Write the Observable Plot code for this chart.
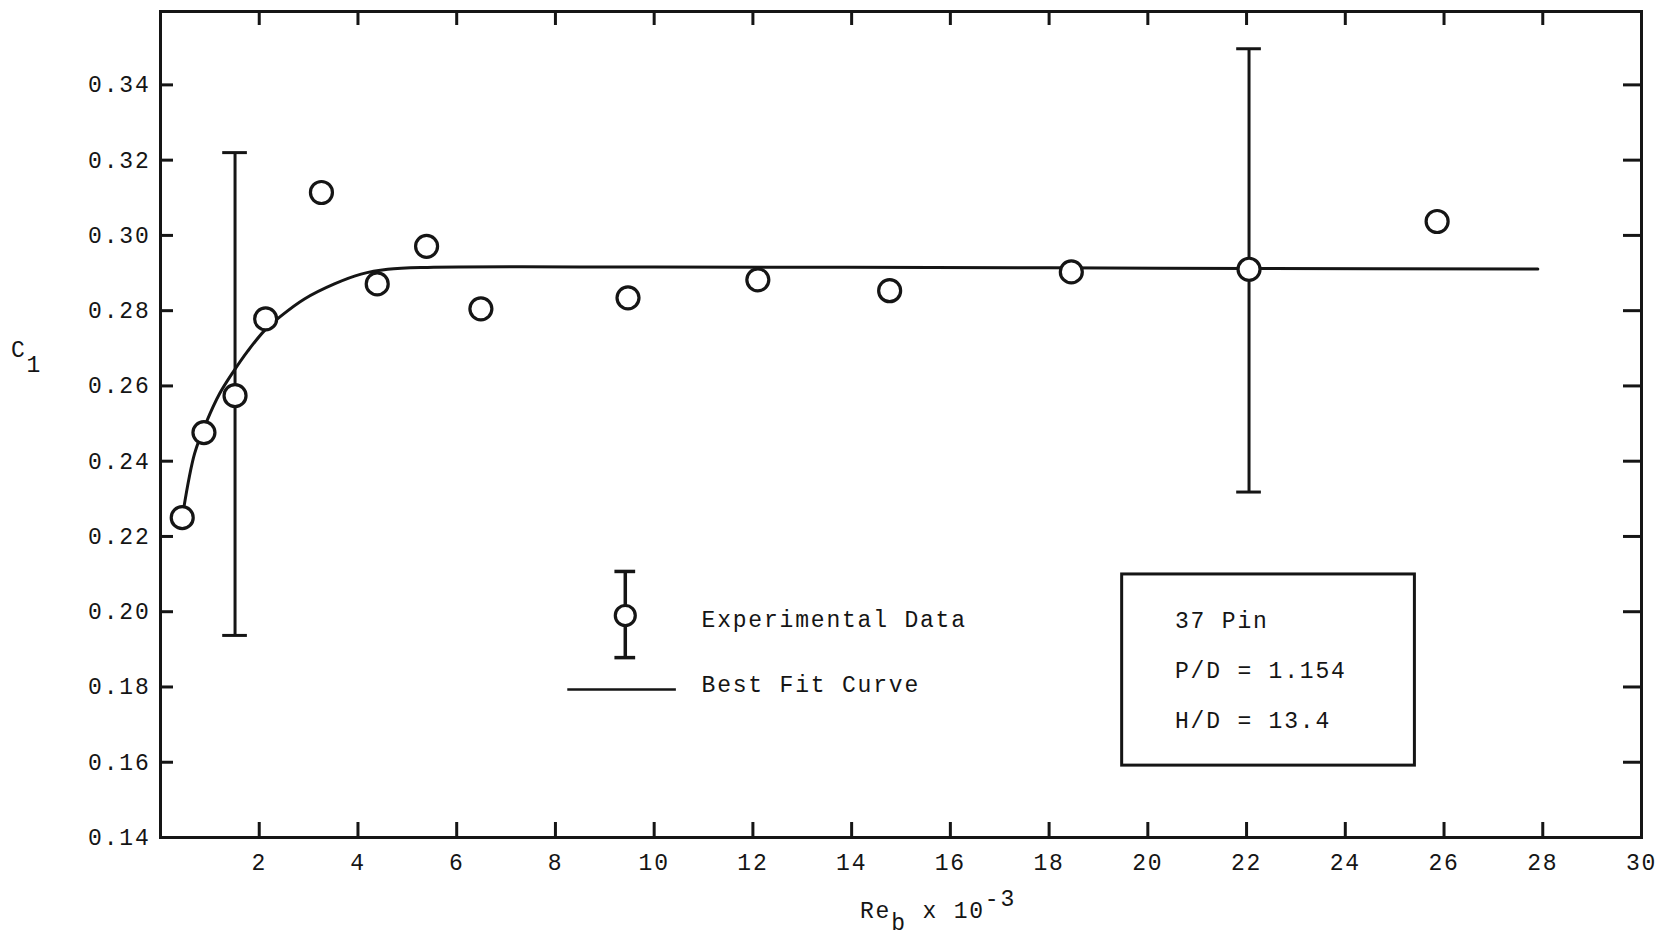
<!DOCTYPE html>
<html>
<head>
<meta charset="utf-8">
<script src="https://cdn.jsdelivr.net/npm/d3@7"></script>
<script src="https://cdn.jsdelivr.net/npm/@observablehq/plot@0.6"></script>
<style>
  html, body { margin: 0; padding: 0; background: #fff; }
  #chart { width: 1668px; height: 939px; }
</style>
</head>
<body>
<div id="chart"></div>
<script>
// Lift coefficient C1 against bundle Reynolds number (Re_b x 10^-3), 37-pin bundle
const reb = [0.44, 0.88, 1.51, 2.13, 3.26, 4.39, 5.39, 6.49, 9.47, 12.10, 14.77, 18.45, 22.05, 25.86];
const c1  = [0.2250, 0.2476, 0.2574, 0.2778, 0.3114, 0.2871, 0.2971, 0.2805, 0.2834, 0.2882, 0.2853, 0.2903, 0.2910, 0.3037];

// Scatter bands drawn at two of the measurements
const errRe   = [1.51, 22.05];
const errLow  = [0.1937, 0.2318];
const errHigh = [0.3220, 0.3496];

// Best fit curve
const fitRe = [0.44, 0.69, 0.927, 1.196, 1.467, 1.77, 2.106, 2.444, 2.916, 3.523, 4.063, 4.603, 5.41, 10, 18, 22.05, 27.9];
const fitC1 = [0.2250, 0.2420, 0.2503, 0.2579, 0.2636, 0.2693, 0.2747, 0.2786, 0.2831, 0.2871, 0.2897, 0.2910, 0.2915, 0.2916, 0.2914, 0.2912, 0.2911];

// Axis ticks
const xTicks = [2, 4, 6, 8, 10, 12, 14, 16, 18, 20, 22, 24, 26, 28, 30];
const yTicks = [0.14, 0.16, 0.18, 0.20, 0.22, 0.24, 0.26, 0.28, 0.30, 0.32, 0.34];

// Annotation texts
const legendLabels = ["Experimental Data", "Best Fit Curve"];
const infoLines = ["37 Pin", "P/D = 1.154", "H/D = 13.4"];

// ---- layout ----
const W = 1668, H = 939;
const M = {top: 11, right: 27, bottom: 102, left: 160};
const innerW = W - M.left - M.right;
const innerH = H - M.top - M.bottom;
const ink = "#151515";
const font = "'Liberation Mono', 'DejaVu Sans Mono', monospace";
const capHalf = 0.25;

// legend and info box placement, in data units
const legendPos = {
  iconX: 9.415, iconY: 0.199, iconLo: 0.1878, iconHi: 0.2107,
  textX: 10.96, textY: [0.1979, 0.1806],
  lineX1: 8.25, lineX2: 10.45, lineY: 0.1793
};
const infoPos = {x1: 19.48, x2: 25.41, y1: 0.1591, y2: 0.2099, textX: 20.55, textY: [0.1976, 0.1844, 0.1711]};

const points = reb.map((x, i) => ({x, y: c1[i]}));
const errors = errRe.map((x, i) => ({x, lo: errLow[i], hi: errHigh[i]}));
const fit = fitRe.map((x, i) => ({x, y: fitC1[i]}));
const legendIcon = [{x: legendPos.iconX, y: legendPos.iconY, lo: legendPos.iconLo, hi: legendPos.iconHi}];
const legendText = legendLabels.map((t, i) => ({t, x: legendPos.textX, y: legendPos.textY[i]}));
const infoText = infoLines.map((t, i) => ({t, x: infoPos.textX, y: infoPos.textY[i]}));

const inner = (v, lo, hi) => v > lo && v < hi;

const chart = Plot.plot({
  width: W,
  height: H,
  marginTop: M.top,
  marginRight: M.right,
  marginBottom: M.bottom,
  marginLeft: M.left,
  style: {fontFamily: font, fontSize: "23px", letterSpacing: "1.8px", color: ink, background: "#fff"},
  x: {domain: [0, 30], ticks: xTicks, tickSize: 0, tickPadding: 16, tickFormat: d => String(d), label: null},
  y: {domain: [0.14, 0.3595], ticks: yTicks, tickSize: 0, tickPadding: 10, tickFormat: d3.format(".2f"), label: null},
  marks: [
    // inward ticks on all four sides
    Plot.tickX(xTicks.filter(v => inner(v, 0, 30)), {x: d => d, insetTop: innerH - 15, stroke: ink, strokeWidth: 3}),
    Plot.tickX(xTicks.filter(v => inner(v, 0, 30)), {x: d => d, insetBottom: innerH - 14, stroke: ink, strokeWidth: 3}),
    Plot.tickY(yTicks.filter(v => inner(v, 0.14, 0.36)), {y: d => d, insetRight: innerW - 13, stroke: ink, strokeWidth: 3}),
    Plot.tickY(yTicks.filter(v => inner(v, 0.14, 0.36)), {y: d => d, insetLeft: innerW - 18, stroke: ink, strokeWidth: 3}),
    Plot.frame({stroke: ink, strokeWidth: 3}),

    // best fit curve
    Plot.line(fit, {x: "x", y: "y", curve: "catmull-rom", stroke: ink, strokeWidth: 3}),

    // error bars
    Plot.ruleX(errors, {x: "x", y1: "lo", y2: "hi", stroke: ink, strokeWidth: 3}),
    Plot.ruleY(errors, {y: "hi", x1: d => d.x - capHalf, x2: d => d.x + capHalf, stroke: ink, strokeWidth: 3}),
    Plot.ruleY(errors, {y: "lo", x1: d => d.x - capHalf, x2: d => d.x + capHalf, stroke: ink, strokeWidth: 3}),

    // experimental data
    Plot.dot(points, {x: "x", y: "y", r: 11, fill: "#fff", stroke: ink, strokeWidth: 3.2}),

    // legend
    Plot.ruleX(legendIcon, {x: "x", y1: "lo", y2: "hi", stroke: ink, strokeWidth: 3.5}),
    Plot.ruleY(legendIcon, {y: "hi", x1: d => d.x - 0.21, x2: d => d.x + 0.21, stroke: ink, strokeWidth: 3.5}),
    Plot.ruleY(legendIcon, {y: "lo", x1: d => d.x - 0.21, x2: d => d.x + 0.21, stroke: ink, strokeWidth: 3.5}),
    Plot.dot(legendIcon, {x: "x", y: "y", r: 10, fill: "#fff", stroke: ink, strokeWidth: 3.2}),
    Plot.ruleY([legendPos.lineY], {x1: legendPos.lineX1, x2: legendPos.lineX2, stroke: ink, strokeWidth: 2.5}),
    Plot.text(legendText, {x: "x", y: "y", text: "t", textAnchor: "start", lineAnchor: "middle", fill: ink}),

    // parameter box
    Plot.rect([infoPos], {x1: "x1", x2: "x2", y1: "y1", y2: "y2", fill: "none", stroke: ink, strokeWidth: 3}),
    Plot.text(infoText, {x: "x", y: "y", text: "t", textAnchor: "start", lineAnchor: "middle", fill: ink})
  ]
});

document.getElementById("chart").appendChild(chart);

// axis titles with subscripts / superscript
const svg = d3.select(chart);
const xl = svg.append("text").attr("x", 860).attr("y", 918).attr("text-anchor", "start").attr("fill", ink);
xl.append("tspan").text("Re");
xl.append("tspan").attr("dy", 12).text("b");
xl.append("tspan").attr("dy", -12).text(" x 10");
xl.append("tspan").attr("dy", -12).text("-3");

const yl = svg.append("text").attr("x", 11).attr("y", 357).attr("text-anchor", "start").attr("fill", ink);
yl.append("tspan").text("C");
yl.append("tspan").attr("dy", 15).text("1");
</script>
</body>
</html>
